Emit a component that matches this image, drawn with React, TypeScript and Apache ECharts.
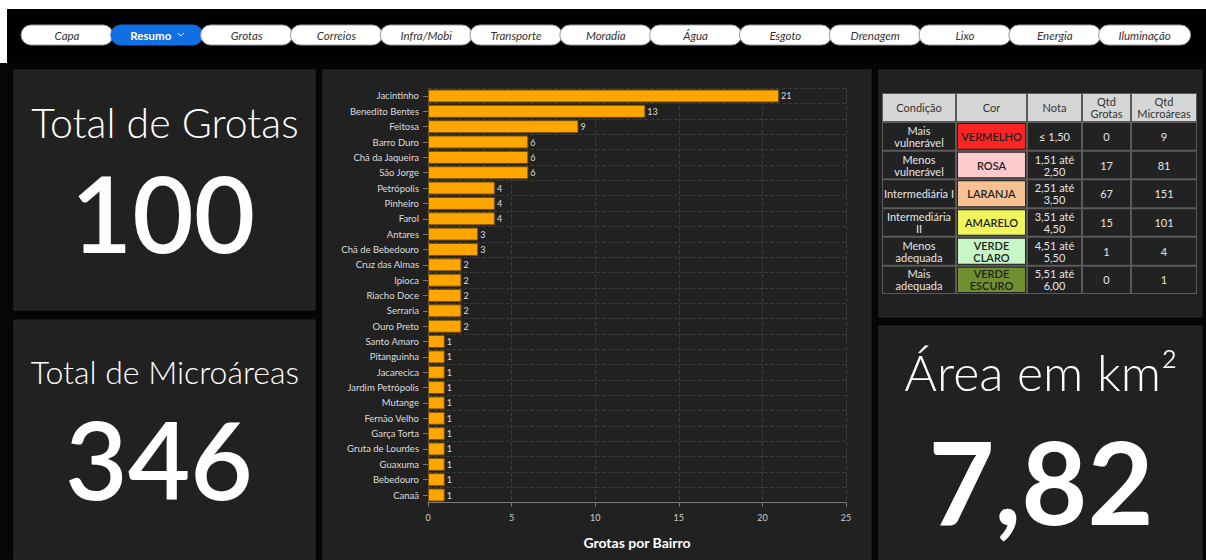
import React, { useEffect, useRef } from "react";
import * as echarts from "echarts";

const bairros = [
  "Jacintinho", "Benedito Bentes", "Feitosa", "Barro Duro", "Chã da Jaqueira", "São Jorge",
  "Petrópolis", "Pinheiro", "Farol", "Antares", "Chã de Bebedouro", "Cruz das Almas", "Ipioca",
  "Riacho Doce", "Serraria", "Ouro Preto", "Santo Amaro", "Pitanguinha", "Jacarecica",
  "Jardim Petrópolis", "Mutange", "Fernão Velho", "Garça Torta", "Gruta de Lourdes", "Guaxuma",
  "Bebedouro", "Canaã",
];
const grotas = [21, 13, 9, 6, 6, 6, 4, 4, 4, 3, 3, 2, 2, 2, 2, 2, 1, 1, 1, 1, 1, 1, 1, 1, 1, 1, 1];
const xTicks = [0, 5, 10, 15, 20, 25];

const navItems = ["Capa", "Resumo", "Grotas", "Correios", "Infra/Mobi", "Transporte", "Moradia", "Água", "Esgoto", "Drenagem", "Lixo", "Energia", "Iluminação"];
const activeNav = "Resumo";

const headers = ["Condição", "Cor", "Nota", "Qtd\nGrotas", "Qtd\nMicroáreas"];
const condicoes = ["Mais\nvulnerável", "Menos\nvulnerável", "Intermediária I", "Intermediária\nII", "Menos\nadequada", "Mais\nadequada"];
const cores = ["VERMELHO", "ROSA", "LARANJA", "AMARELO", "VERDE\nCLARO", "VERDE\nESCURO"];
const coresHex = ["#ff2424", "#ffc9cd", "#f7c192", "#f1f55c", "#c7f6c7", "#6f8f31"];
const notas = ["≤ 1,50", "1,51 até\n2,50", "2,51 até\n3,50", "3,51 até\n4,50", "4,51 até\n5,50", "5,51 até\n6,00"];
const qtdGrotas = [0, 17, 67, 15, 1, 0];
const qtdMicro = [9, 81, 151, 101, 4, 1];

const totalGrotasLabel = "Total de Grotas";
const totalGrotas = "100";
const totalMicroLabel = "Total de Microáreas";
const totalMicro = "346";
const areaLabel = "Área em km²";
const areaValue = "7,82";
const chartTitle = "Grotas por Bairro";

const FONT = "Lato, 'Open Sans', sans-serif";

function txt(x: number, y: number, text: string, size: number, fill: string, weight: any = "normal", align = "center", extra: any = {}) {
  return {
    type: "text",
    x,
    y,
    silent: true,
    style: {
      text,
      fill,
      fontSize: size,
      fontFamily: FONT,
      fontWeight: weight,
      align,
      verticalAlign: "middle",
      textAlign: align,
      textVerticalAlign: "middle",
      lineHeight: Math.round(size * 1.2),
      ...extra,
    },
  };
}

function rect(x: number, y: number, w: number, h: number, fill: string, extra: any = {}, r: any = 0) {
  return { type: "rect", silent: true, shape: { x, y, width: w, height: h, r }, style: { fill, ...extra } };
}

export default function App() {
  const ref = useRef<HTMLDivElement>(null);
  useEffect(() => {
    if (!ref.current) return;
    const chart = echarts.init(ref.current, null, { renderer: "svg" });
    const g: any[] = [];
    // backgrounds
    g.push(rect(7, 9, 1199, 54, "#000000"));
    g.push(rect(0, 63, 1206, 497, "#060606"));
    // nav pills
    navItems.forEach((n, i) => {
      const x = 21 + 89.8 * i;
      const active = n === activeNav;
      g.push(rect(x, 25, 92, 20, active ? "#0f6fe3" : "#ffffff", { stroke: active ? "#0f6fe3" : "#9a9a9a", lineWidth: 1 }, 10));
      if (active) {
        g.push(txt(x + 40, 35, n, 11.5, "#ffffff", "bold"));
        g.push({
          type: "polyline",
          silent: true,
          shape: { points: [[x + 67, 33], [x + 70, 36], [x + 73, 33]] },
          style: { stroke: "#ffffff", lineWidth: 1, fill: null },
        });
      } else {
        g.push(txt(x + 46, 35, n, 11.5, "#333333", "normal", "center", { fontStyle: "italic" }));
      }
    });
    // panels
    const panel = "#212121";
    g.push(rect(14, 70, 301, 240, panel, { stroke: "#2a2a2a", lineWidth: 1 }));
    g.push(rect(14, 320, 301, 240, panel, { stroke: "#2a2a2a", lineWidth: 1 }));
    g.push(rect(323, 70, 548, 490, panel, { stroke: "#2a2a2a", lineWidth: 1 }));
    g.push(rect(879, 70, 323, 247, panel, { stroke: "#2a2a2a", lineWidth: 1 }));
    g.push(rect(879, 326, 323, 234, panel, { stroke: "#2a2a2a", lineWidth: 1 }));
    // KPI texts
    g.push(txt(165, 122, totalGrotasLabel, 41, "#ffffff", 300));
    g.push(txt(163, 212, totalGrotas, 106, "#ffffff", 600));
    g.push(txt(165, 371, totalMicroLabel, 32, "#ffffff", 300));
    g.push(txt(159, 458, totalMicro, 108, "#ffffff", 600));
    g.push(txt(1041, 372, areaLabel, 50, "#ffffff", 300));
    g.push(txt(1041, 480, areaValue, 114, "#ffffff", "bold"));
    // table
    const cx = [882, 956, 1027, 1082, 1131, 1197];
    const ry = [93, 122, 150.7, 179.3, 208.3, 236.7, 265.7, 294];
    g.push(rect(cx[0], ry[0], cx[5] - cx[0], ry[7] - ry[0], "#5a5a5a"));
    headers.forEach((h, c) => {
      g.push(rect(cx[c] + 1, ry[0] + 1, cx[c + 1] - cx[c] - 2, ry[1] - ry[0] - 2, "#d6d6d6"));
      g.push(txt((cx[c] + cx[c + 1]) / 2, (ry[0] + ry[1]) / 2, h, 11, "#333333", "normal", "center", { lineHeight: 12 }));
    });
    for (let r = 0; r < condicoes.length; r++) {
      const y0 = ry[r + 1], y1 = ry[r + 2];
      const cells = [condicoes[r], cores[r], notas[r], String(qtdGrotas[r]), String(qtdMicro[r])];
      cells.forEach((v, c) => {
        const isColor = c === 1;
        g.push(rect(cx[c] + 1, y0 + 1, cx[c + 1] - cx[c] - 2, y1 - y0 - 2, "#222222"));
        if (isColor) g.push(rect(cx[c] + 2, y0 + 2, cx[c + 1] - cx[c] - 4, y1 - y0 - 4, coresHex[r]));
        g.push(txt((cx[c] + cx[c + 1]) / 2, (y0 + y1) / 2, v, 11, isColor ? "#222222" : "#e6e6e6", isColor ? 600 : "normal", "center", { lineHeight: 12 }));
      });
    }

    chart.setOption({
      animation: false,
      backgroundColor: "#ffffff",
      graphic: { elements: g },
      grid: { left: 428, top: 88.3, width: 418, height: 414.4 },
      xAxis: {
        type: "value",
        min: 0,
        max: 25,
        interval: 5,
        axisLine: { show: true, lineStyle: { color: "#7a7a7a" } },
        axisTick: { show: true, length: 4, lineStyle: { color: "#7a7a7a" } },
        axisLabel: { color: "#cfcfcf", fontSize: 9, fontFamily: FONT, margin: 10, customValues: xTicks },
        splitLine: { show: true, lineStyle: { color: "#3d3d3d", type: "dashed" } },
        name: chartTitle,
        nameLocation: "middle",
        nameGap: 33,
        nameTextStyle: { color: "#ffffff", fontSize: 14, fontWeight: "bold", fontFamily: FONT },
      },
      yAxis: {
        type: "category",
        data: bairros,
        inverse: true,
        axisLine: { show: true, lineStyle: { color: "#555555" } },
        axisTick: { show: true, length: 5, alignWithLabel: true, lineStyle: { color: "#777777" } },
        axisLabel: { color: "#dddddd", fontSize: 9.5, fontFamily: FONT, margin: 9 },
        splitLine: { show: true, lineStyle: { color: "#3a3a3a", type: "dashed" } },
      },
      series: [
        {
          type: "bar",
          data: grotas,
          barWidth: 13,
          itemStyle: { color: "#ffa500", borderColor: "#7a5200", borderWidth: 1 },
          label: { show: true, position: "right", distance: 2, color: "#dddddd", fontSize: 9, fontFamily: FONT },
        },
      ],
    });
    return () => chart.dispose();
  }, []);
  return <div ref={ref} style={{ position: "fixed", left: 0, top: 0, width: 1206, height: 560 }} />;
}
